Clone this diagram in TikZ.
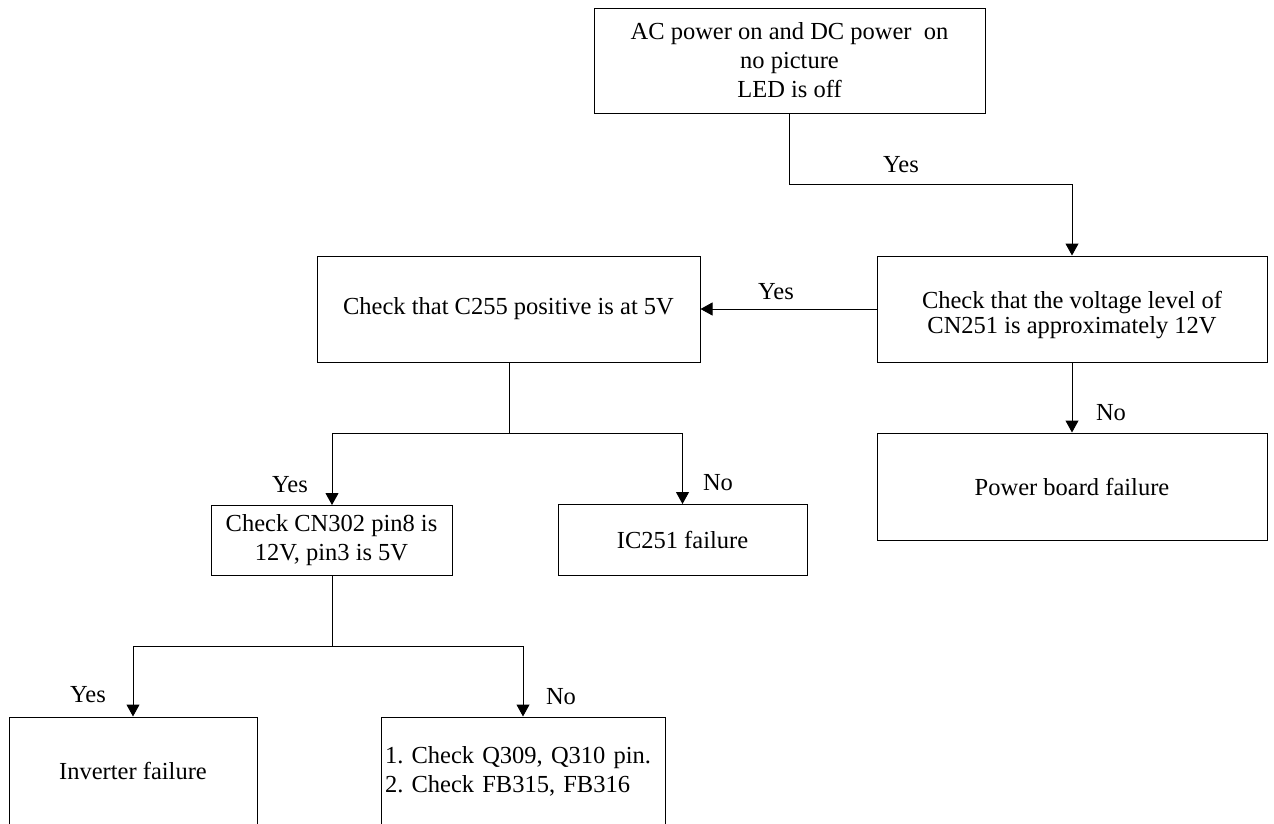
\documentclass[tikz,border=0pt]{standalone}
\usepackage{fontspec}
\setmainfont{Liberation Serif}
\usetikzlibrary{arrows.meta}
\frenchspacing
\begin{document}
\begin{tikzpicture}[x=1pt,y=-1pt,
  box/.style={draw=black, line width=1pt, inner sep=0pt, align=center,
    font=\fontsize{24.5}{29}\selectfont},
  conn/.style={draw=black, line width=1pt},
  arr/.style={conn, -{Triangle[length=12pt,width=13pt]}},
  lbl/.style={font=\fontsize{24.5}{29}\selectfont, inner sep=0pt}]
\useasboundingbox (0,0) rectangle (1274,823);
\node[box, minimum width=391pt, minimum height=105pt] (b1) at (789.5,60.5)
  {AC power on and DC power\ \ on\\no picture\\LED is off};
\node[box, minimum width=390pt, minimum height=106pt] (b2) at (1072,309) {};
\node[lbl, align=center, font=\fontsize{24.5}{25.5}\selectfont] (b2t) at (1072,315)
  {Check that the voltage level of\\CN251 is approximately 12V};
\node[box, minimum width=383pt, minimum height=106pt] (b3) at (508.5,309)
  {Check that C255 positive is at 5V};
\node[box, minimum width=390pt, minimum height=107pt] (b4) at (1072,486.5)
  {Power board failure};
\node[box, minimum width=241pt, minimum height=70pt] (b5) at (331.5,540.5)
  {Check CN302 pin8 is\\12V, pin3 is 5V};
\node[box, minimum width=249pt, minimum height=71pt] (b6) at (682.5,540)
  {IC251 failure};
\node[box, minimum width=248pt, minimum height=108pt] (b7) at (133,771)
  {Inverter failure};
\node[box, text width=276pt, inner xsep=4pt, align=left, minimum height=108pt] (b8) at (523,771)
  {1. Check Q309, Q310 pin.\\2. Check FB315, FB316};
\coordinate (j1) at (789.5,184);
\coordinate (j2) at (509,433);
\coordinate (j3) at (332,646);
\draw[arr] (b1.south) -- (j1) -| (b2.north);
\draw[arr] (b2.west) -- (b3.east);
\draw[arr] (b2.south) -- (b4.north);
\draw[conn] (b3.south -| j2) -- (j2);
\draw[arr] (j2) -| (b5.north -| j3);
\draw[arr] (j2) -| (b6.north);
\draw[conn] (b5.south -| j3) -- (j3);
\draw[arr] (j3) -| (b7.north);
\draw[arr] (j3) -| (b8.north);
\node[lbl] (l1) at (901,165) {Yes};
\node[lbl] (l2) at (776,292) {Yes};
\node[lbl] (l3) at (1111,413) {No};
\node[lbl] (l4) at (290,485) {Yes};
\node[lbl] (l5) at (718,483) {No};
\node[lbl] (l6) at (88,695) {Yes};
\node[lbl] (l7) at (561,697) {No};
\end{tikzpicture}
\end{document}
